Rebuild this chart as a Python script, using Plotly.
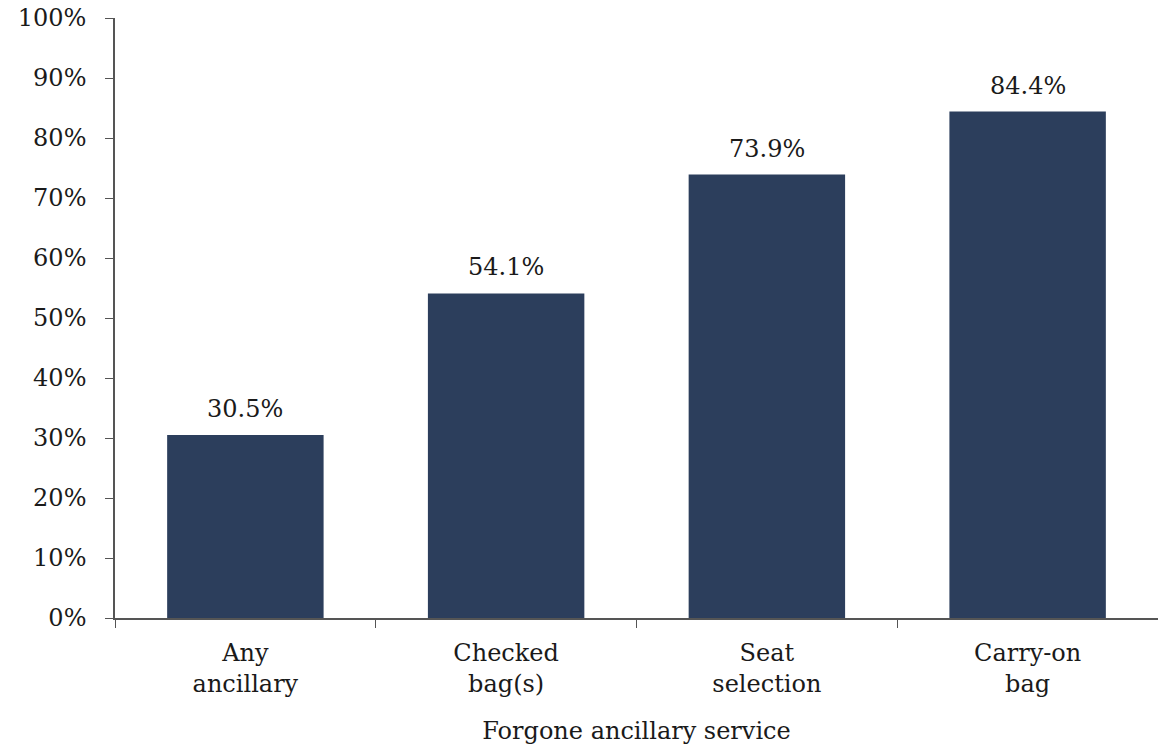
import plotly.graph_objects as go

categories = ["Any<br>ancillary", "Checked<br>bag(s)", "Seat<br>selection", "Carry-on<br>bag"]
values = [30.5, 54.1, 73.9, 84.4]
labels = ["30.5%", "54.1%", "73.9%", "84.4%"]
y_ticks = list(range(0, 101, 10))
y_ticklabels = [f"{v}%" for v in y_ticks]

font_family = "DejaVu Serif"
fsize = 24
fcolor = "#1a1a1a"

fig = go.Figure(go.Bar(
    x=categories, y=values,
    marker=dict(color="#2C3E5C", line=dict(width=0)),
    width=0.6,
))

for c, v, t in zip(categories, values, labels):
    fig.add_annotation(x=c, y=v, text=t, showarrow=False, yanchor="bottom",
                       yshift=10, font=dict(family=font_family, size=fsize, color=fcolor))

fig.update_layout(
    width=1158, height=747,
    margin=dict(l=115, r=0, t=18, b=129),
    paper_bgcolor="white", plot_bgcolor="white",
    font=dict(family=font_family, size=fsize, color=fcolor),
    showlegend=False,
)
fig.update_xaxes(
    range=[-0.5, 3.5], showline=True, linecolor="#555", linewidth=1.5,
    ticks="outside", tickson="boundaries", ticklen=8, tickcolor="#555",
    showgrid=False, ticklabelstandoff=12,
    title=dict(text="Forgone ancillary service", standoff=25,
               font=dict(family=font_family, size=fsize, color=fcolor)),
    tickfont=dict(family=font_family, size=fsize, color=fcolor),
)
fig.update_yaxes(
    range=[0, 100], tickvals=y_ticks, ticktext=y_ticklabels,
    showline=True, linecolor="#555", linewidth=1.5,
    ticks="outside", ticklen=8, tickcolor="#555", showgrid=False,
    zeroline=False, ticklabelstandoff=14,
    tickfont=dict(family=font_family, size=fsize, color=fcolor),
)

fig.write_html("out.html")
